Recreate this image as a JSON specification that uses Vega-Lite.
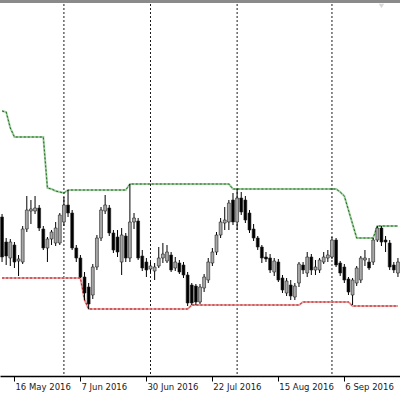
{
  "$schema": "https://vega.github.io/schema/vega-lite/v6.json",
  "width": 400,
  "height": 376,
  "autosize": {"type": "none"},
  "padding": {"left": 0, "top": 0, "right": 0, "bottom": 24},
  "background": "white",
  "config": {"view": {"stroke": null}},
  "data": {"values": [
    {"date": "11 May 2016", "open": 783, "high": 786, "low": 738, "close": 743, "upper": 889, "lower": 722},
    {"date": "12 May 2016", "open": 758, "high": 762, "low": 735, "close": 744, "upper": 888, "lower": 722},
    {"date": "13 May 2016", "open": 742, "high": 761, "low": 734, "close": 758, "upper": 872, "lower": 722},
    {"date": "16 May 2016", "open": 755, "high": 758, "low": 732, "close": 738, "upper": 863, "lower": 722},
    {"date": "17 May 2016", "open": 739, "high": 745, "low": 724, "close": 741, "upper": 863, "lower": 722},
    {"date": "18 May 2016", "open": 738, "high": 774, "low": 736, "close": 771, "upper": 863, "lower": 722},
    {"date": "19 May 2016", "open": 771, "high": 804, "low": 768, "close": 790, "upper": 863, "lower": 722},
    {"date": "20 May 2016", "open": 789, "high": 800, "low": 776, "close": 791, "upper": 863, "lower": 722},
    {"date": "23 May 2016", "open": 789, "high": 804, "low": 786, "close": 792, "upper": 863, "lower": 722},
    {"date": "24 May 2016", "open": 792, "high": 795, "low": 769, "close": 772, "upper": 863, "lower": 722},
    {"date": "25 May 2016", "open": 771, "high": 774, "low": 750, "close": 752, "upper": 863, "lower": 722},
    {"date": "26 May 2016", "open": 752, "high": 763, "low": 738, "close": 761, "upper": 812, "lower": 722},
    {"date": "27 May 2016", "open": 761, "high": 770, "low": 755, "close": 768, "upper": 811, "lower": 722},
    {"date": "30 May 2016", "open": 757, "high": 778, "low": 754, "close": 772, "upper": 809, "lower": 722},
    {"date": "31 May 2016", "open": 757, "high": 787, "low": 755, "close": 785, "upper": 808, "lower": 722},
    {"date": "1 Jun 2016", "open": 778, "high": 803, "low": 774, "close": 795, "upper": 807, "lower": 722},
    {"date": "2 Jun 2016", "open": 795, "high": 810, "low": 783, "close": 787, "upper": 810, "lower": 722},
    {"date": "3 Jun 2016", "open": 787, "high": 790, "low": 750, "close": 752, "upper": 810, "lower": 722},
    {"date": "6 Jun 2016", "open": 752, "high": 755, "low": 738, "close": 742, "upper": 810, "lower": 722},
    {"date": "7 Jun 2016", "open": 742, "high": 745, "low": 722, "close": 723, "upper": 810, "lower": 722},
    {"date": "8 Jun 2016", "open": 723, "high": 728, "low": 700, "close": 707, "upper": 810, "lower": 700},
    {"date": "9 Jun 2016", "open": 713, "high": 717, "low": 691, "close": 696, "upper": 810, "lower": 691},
    {"date": "10 Jun 2016", "open": 705, "high": 736, "low": 701, "close": 733, "upper": 810, "lower": 691},
    {"date": "13 Jun 2016", "open": 733, "high": 765, "low": 730, "close": 762, "upper": 810, "lower": 691},
    {"date": "14 Jun 2016", "open": 762, "high": 793, "low": 759, "close": 790, "upper": 810, "lower": 691},
    {"date": "15 Jun 2016", "open": 789, "high": 805, "low": 786, "close": 795, "upper": 810, "lower": 691},
    {"date": "16 Jun 2016", "open": 792, "high": 795, "low": 764, "close": 767, "upper": 810, "lower": 691},
    {"date": "20 Jun 2016", "open": 767, "high": 770, "low": 747, "close": 750, "upper": 810, "lower": 691},
    {"date": "21 Jun 2016", "open": 763, "high": 770, "low": 743, "close": 748, "upper": 810, "lower": 691},
    {"date": "22 Jun 2016", "open": 738, "high": 772, "low": 725, "close": 765, "upper": 810, "lower": 691},
    {"date": "23 Jun 2016", "open": 764, "high": 767, "low": 738, "close": 742, "upper": 810, "lower": 691},
    {"date": "24 Jun 2016", "open": 742, "high": 816, "low": 738, "close": 778, "upper": 816, "lower": 691},
    {"date": "27 Jun 2016", "open": 778, "high": 787, "low": 771, "close": 782, "upper": 816, "lower": 691},
    {"date": "28 Jun 2016", "open": 779, "high": 782, "low": 740, "close": 742, "upper": 816, "lower": 691},
    {"date": "29 Jun 2016", "open": 744, "high": 750, "low": 729, "close": 732, "upper": 816, "lower": 691},
    {"date": "30 Jun 2016", "open": 738, "high": 742, "low": 723, "close": 730, "upper": 816, "lower": 691},
    {"date": "1 Jul 2016", "open": 731, "high": 738, "low": 727, "close": 734, "upper": 816, "lower": 691},
    {"date": "4 Jul 2016", "open": 729, "high": 737, "low": 720, "close": 733, "upper": 816, "lower": 691},
    {"date": "5 Jul 2016", "open": 734, "high": 753, "low": 732, "close": 742, "upper": 816, "lower": 691},
    {"date": "6 Jul 2016", "open": 742, "high": 757, "low": 737, "close": 746, "upper": 816, "lower": 691},
    {"date": "7 Jul 2016", "open": 739, "high": 755, "low": 737, "close": 748, "upper": 816, "lower": 691},
    {"date": "8 Jul 2016", "open": 745, "high": 748, "low": 728, "close": 730, "upper": 816, "lower": 691},
    {"date": "11 Jul 2016", "open": 732, "high": 743, "low": 729, "close": 738, "upper": 816, "lower": 691},
    {"date": "12 Jul 2016", "open": 737, "high": 740, "low": 726, "close": 728, "upper": 816, "lower": 691},
    {"date": "13 Jul 2016", "open": 735, "high": 738, "low": 722, "close": 725, "upper": 816, "lower": 691},
    {"date": "14 Jul 2016", "open": 725, "high": 728, "low": 694, "close": 697, "upper": 816, "lower": 691},
    {"date": "15 Jul 2016", "open": 715, "high": 717, "low": 695, "close": 697, "upper": 816, "lower": 695},
    {"date": "18 Jul 2016", "open": 714, "high": 716, "low": 695, "close": 698, "upper": 816, "lower": 695},
    {"date": "19 Jul 2016", "open": 698, "high": 716, "low": 696, "close": 713, "upper": 816, "lower": 695},
    {"date": "20 Jul 2016", "open": 712, "high": 726, "low": 708, "close": 723, "upper": 816, "lower": 695},
    {"date": "21 Jul 2016", "open": 720, "high": 742, "low": 717, "close": 738, "upper": 816, "lower": 695},
    {"date": "22 Jul 2016", "open": 737, "high": 752, "low": 734, "close": 748, "upper": 816, "lower": 695},
    {"date": "25 Jul 2016", "open": 748, "high": 768, "low": 745, "close": 765, "upper": 816, "lower": 695},
    {"date": "26 Jul 2016", "open": 765, "high": 782, "low": 762, "close": 778, "upper": 816, "lower": 695},
    {"date": "27 Jul 2016", "open": 777, "high": 793, "low": 770, "close": 780, "upper": 816, "lower": 695},
    {"date": "28 Jul 2016", "open": 778, "high": 800, "low": 770, "close": 797, "upper": 816, "lower": 695},
    {"date": "29 Jul 2016", "open": 800, "high": 807, "low": 775, "close": 778, "upper": 811, "lower": 695},
    {"date": "1 Aug 2016", "open": 778, "high": 811, "low": 770, "close": 802, "upper": 811, "lower": 695},
    {"date": "2 Aug 2016", "open": 802, "high": 808, "low": 785, "close": 788, "upper": 811, "lower": 695},
    {"date": "3 Aug 2016", "open": 800, "high": 804, "low": 777, "close": 780, "upper": 811, "lower": 695},
    {"date": "4 Aug 2016", "open": 787, "high": 790, "low": 767, "close": 770, "upper": 811, "lower": 695},
    {"date": "5 Aug 2016", "open": 771, "high": 776, "low": 759, "close": 762, "upper": 811, "lower": 695},
    {"date": "8 Aug 2016", "open": 762, "high": 764, "low": 750, "close": 753, "upper": 811, "lower": 695},
    {"date": "9 Aug 2016", "open": 753, "high": 755, "low": 737, "close": 742, "upper": 811, "lower": 695},
    {"date": "10 Aug 2016", "open": 743, "high": 748, "low": 738, "close": 741, "upper": 811, "lower": 695},
    {"date": "11 Aug 2016", "open": 742, "high": 746, "low": 727, "close": 730, "upper": 811, "lower": 695},
    {"date": "12 Aug 2016", "open": 728, "high": 742, "low": 724, "close": 739, "upper": 811, "lower": 695},
    {"date": "15 Aug 2016", "open": 738, "high": 741, "low": 718, "close": 720, "upper": 811, "lower": 695},
    {"date": "16 Aug 2016", "open": 722, "high": 725, "low": 707, "close": 710, "upper": 811, "lower": 695},
    {"date": "17 Aug 2016", "open": 707, "high": 722, "low": 704, "close": 719, "upper": 811, "lower": 695},
    {"date": "18 Aug 2016", "open": 715, "high": 720, "low": 700, "close": 704, "upper": 811, "lower": 695},
    {"date": "19 Aug 2016", "open": 703, "high": 717, "low": 700, "close": 714, "upper": 811, "lower": 695},
    {"date": "22 Aug 2016", "open": 717, "high": 738, "low": 713, "close": 736, "upper": 811, "lower": 695},
    {"date": "23 Aug 2016", "open": 735, "high": 738, "low": 726, "close": 730, "upper": 811, "lower": 698},
    {"date": "24 Aug 2016", "open": 727, "high": 748, "low": 723, "close": 743, "upper": 811, "lower": 698},
    {"date": "25 Aug 2016", "open": 743, "high": 746, "low": 725, "close": 730, "upper": 811, "lower": 698},
    {"date": "26 Aug 2016", "open": 730, "high": 740, "low": 725, "close": 733, "upper": 811, "lower": 698},
    {"date": "29 Aug 2016", "open": 730, "high": 742, "low": 727, "close": 740, "upper": 811, "lower": 698},
    {"date": "30 Aug 2016", "open": 738, "high": 748, "low": 736, "close": 743, "upper": 811, "lower": 698},
    {"date": "31 Aug 2016", "open": 742, "high": 750, "low": 738, "close": 745, "upper": 811, "lower": 698},
    {"date": "1 Sep 2016", "open": 743, "high": 763, "low": 741, "close": 760, "upper": 811, "lower": 698},
    {"date": "2 Sep 2016", "open": 760, "high": 762, "low": 733, "close": 735, "upper": 811, "lower": 698},
    {"date": "5 Sep 2016", "open": 737, "high": 739, "low": 724, "close": 727, "upper": 808, "lower": 698},
    {"date": "6 Sep 2016", "open": 733, "high": 736, "low": 717, "close": 720, "upper": 804, "lower": 698},
    {"date": "7 Sep 2016", "open": 721, "high": 723, "low": 705, "close": 708, "upper": 790, "lower": 698},
    {"date": "8 Sep 2016", "open": 705, "high": 722, "low": 695, "close": 720, "upper": 776, "lower": 694},
    {"date": "9 Sep 2016", "open": 717, "high": 734, "low": 714, "close": 732, "upper": 762, "lower": 694},
    {"date": "12 Sep 2016", "open": 720, "high": 744, "low": 717, "close": 742, "upper": 762, "lower": 694},
    {"date": "13 Sep 2016", "open": 740, "high": 750, "low": 734, "close": 742, "upper": 762, "lower": 694},
    {"date": "14 Sep 2016", "open": 738, "high": 742, "low": 730, "close": 732, "upper": 762, "lower": 694},
    {"date": "15 Sep 2016", "open": 738, "high": 762, "low": 735, "close": 760, "upper": 762, "lower": 694},
    {"date": "16 Sep 2016", "open": 760, "high": 774, "low": 758, "close": 772, "upper": 774, "lower": 694},
    {"date": "19 Sep 2016", "open": 772, "high": 774, "low": 754, "close": 758, "upper": 774, "lower": 694},
    {"date": "20 Sep 2016", "open": 760, "high": 764, "low": 748, "close": 758, "upper": 774, "lower": 694},
    {"date": "21 Sep 2016", "open": 757, "high": 760, "low": 730, "close": 733, "upper": 774, "lower": 694},
    {"date": "22 Sep 2016", "open": 735, "high": 738, "low": 727, "close": 730, "upper": 774, "lower": 694},
    {"date": "23 Sep 2016", "open": 727, "high": 742, "low": 723, "close": 738, "upper": 774, "lower": 694}
  ]},
  "layer": [
    {
      "mark": {"type": "line", "color": "#9ccc9c", "strokeWidth": 2},
      "encoding": {
        "x": {"field": "date", "type": "ordinal", "sort": null, "scale": {"paddingInner": 0, "paddingOuter": 0},
          "axis": {"title": null, "values": ["16 May 2016", "7 Jun 2016", "30 Jun 2016", "22 Jul 2016", "15 Aug 2016", "6 Sep 2016"],
            "labelAngle": 0, "labelAlign": "left", "labelBaseline": "top", "labelPadding": 1, "labelOffset": 1,
            "labelFont": "DejaVu Sans", "labelFontSize": 8.5, "labelColor": "#1a1a1a",
            "tickColor": "#000000", "tickSize": 5, "domainColor": "#000000", "domainWidth": 1.5,
            "labelOverlap": false, "labelBound": false, "grid": false}},
        "y": {"field": "upper", "type": "quantitative", "scale": {"domain": [624, 1000], "nice": false, "zero": false}, "axis": null}
      }
    },
    {
      "transform": [{"filter": {"field": "date", "oneOf": ["1 Jun 2016", "1 Jul 2016", "1 Aug 2016", "1 Sep 2016"]}}],
      "mark": {"type": "rule", "color": "#1a1a1a", "strokeWidth": 1, "strokeDash": [2, 2]},
      "encoding": {
        "x": {"field": "date", "type": "ordinal", "sort": null}
      }
    },
    {
      "mark": {"type": "line", "color": "#1f6b1f", "strokeWidth": 1, "strokeDash": [2, 2]},
      "encoding": {
        "x": {"field": "date", "type": "ordinal", "sort": null},
        "y": {"field": "upper", "type": "quantitative"}
      }
    },
    {
      "mark": {"type": "line", "color": "#eca0a0", "strokeWidth": 2},
      "encoding": {
        "x": {"field": "date", "type": "ordinal", "sort": null},
        "y": {"field": "lower", "type": "quantitative"}
      }
    },
    {
      "mark": {"type": "line", "color": "#b01515", "strokeWidth": 1, "strokeDash": [2, 2]},
      "encoding": {
        "x": {"field": "date", "type": "ordinal", "sort": null},
        "y": {"field": "lower", "type": "quantitative"}
      }
    },
    {
      "mark": {"type": "rule", "color": "#000000", "strokeWidth": 1},
      "encoding": {
        "x": {"field": "date", "type": "ordinal", "sort": null},
        "y": {"field": "low", "type": "quantitative"},
        "y2": {"field": "high"}
      }
    },
    {
      "mark": {"type": "bar", "width": {"band": 0.7}, "stroke": "#202020", "strokeWidth": 0.6},
      "encoding": {
        "x": {"field": "date", "type": "ordinal", "sort": null},
        "y": {"field": "open", "type": "quantitative"},
        "y2": {"field": "close"},
        "fill": {"condition": {"test": "datum.close < datum.open", "value": "#000000"}, "value": "#a8a8a8"}
      }
    },
    {
      "mark": {"type": "rule", "color": "#8a8a8a", "strokeWidth": 3},
      "encoding": {"y": {"datum": 998.5, "type": "quantitative"}}
    },
    {
      "transform": [{"filter": {"field": "date", "equal": "19 Sep 2016"}}],
      "mark": {"type": "point", "shape": "triangle-down", "filled": true, "color": "#c8c8c8", "size": 30},
      "encoding": {
        "x": {"field": "date", "type": "ordinal", "sort": null},
        "y": {"datum": 994, "type": "quantitative"}
      }
    }
  ]
}
